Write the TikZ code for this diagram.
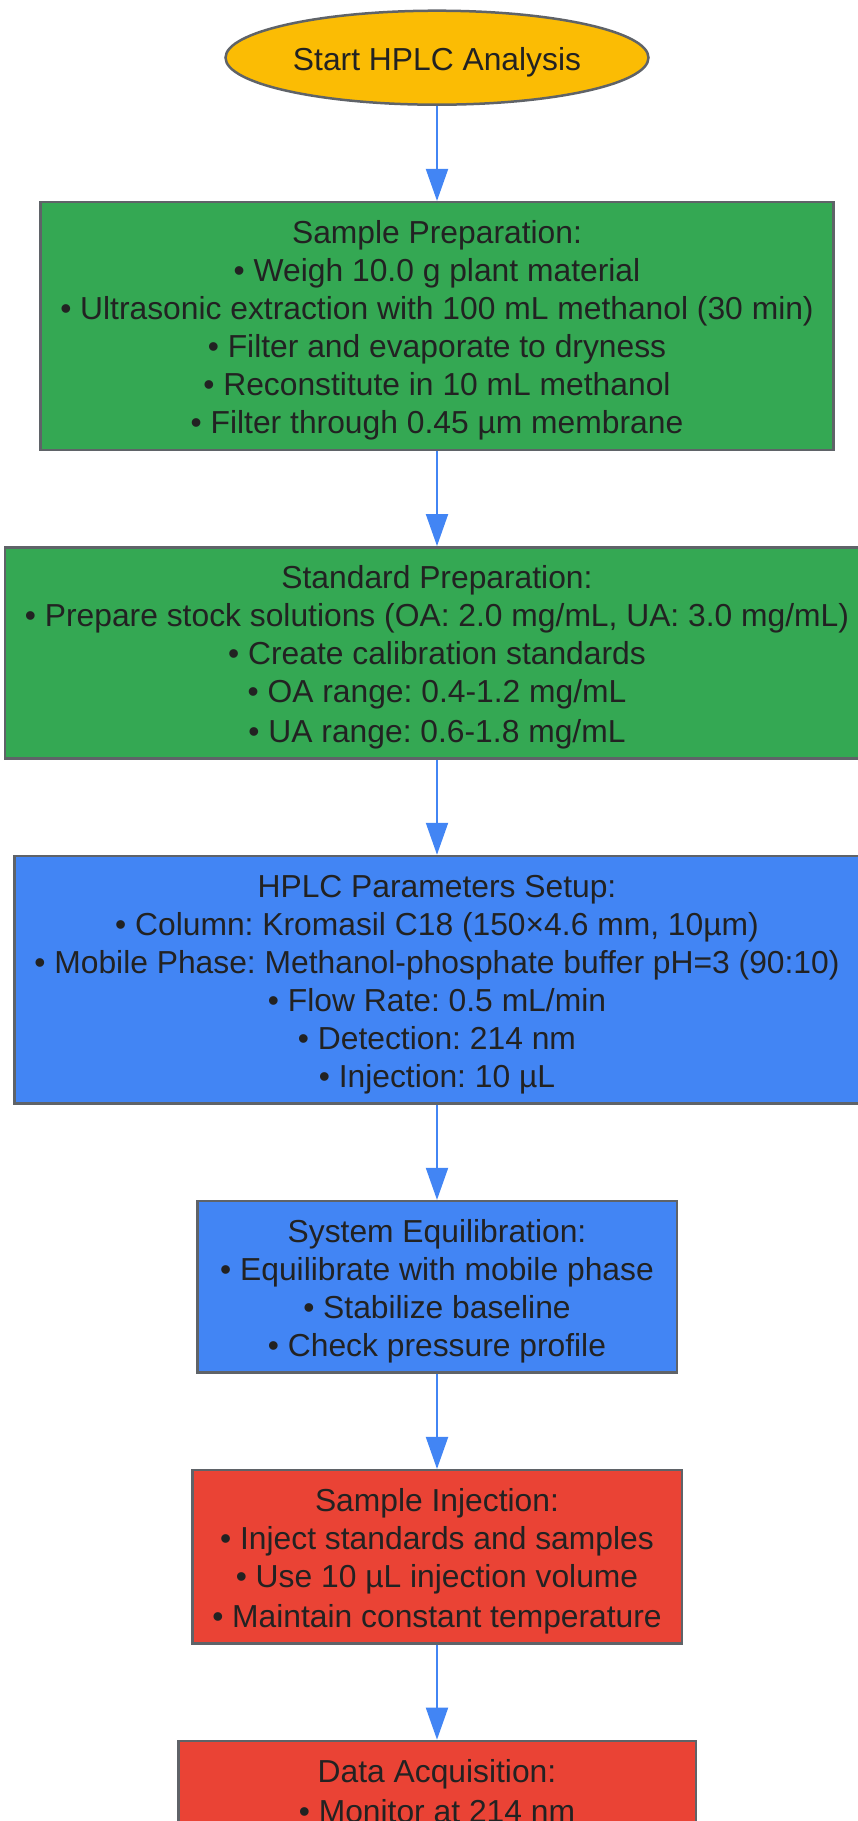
\documentclass[tikz,border=0pt]{standalone}
\usepackage{fontspec}
\setmainfont{Liberation Sans}
\usetikzlibrary{positioning,arrows.meta,shapes.geometric}

\definecolor{gyellow}{HTML}{FBBC04}
\definecolor{ggreen}{HTML}{34A853}
\definecolor{gblue}{HTML}{4285F4}
\definecolor{gred}{HTML}{EA4335}
\definecolor{edge}{HTML}{5F6368}
\definecolor{ink}{HTML}{222222}
\newcommand{\linestrut}{\rule[-6pt]{0pt}{38pt}}

\begin{document}
\frenchspacing
\begin{tikzpicture}[x=1pt,y=1pt,node distance=95pt,
	every node/.style={font=\fontsize{31.8pt}{38pt}\selectfont,text=ink,draw=edge,line width=2.5pt},
	stepbox/.style={rectangle,align=center,inner xsep=20pt,inner ysep=9.5pt},
	flow/.style={draw=gblue,line width=2pt,-{Triangle[length=32pt,width=22pt]}}]
	\useasboundingbox (0,0) rectangle (858,-1821);
	% Start
	\node[ellipse,fill=gyellow,minimum width=423pt,minimum height=94pt,inner sep=0pt] (start) at (437,-57.7) {\linestrut Start HPLC Analysis};
	% Steps
	\node[stepbox,fill=ggreen,below=of start] (sample) {\linestrut Sample Preparation:\\
		• Weigh 10.0 g plant material\\
		• Ultrasonic extraction with 100 mL methanol (30 min)\\
		• Filter and evaporate to dryness\\
		• Reconstitute in 10 mL methanol\\
		• Filter through 0.45 µm membrane\linestrut};
	\node[stepbox,fill=ggreen,below=of sample] (standard) {\linestrut Standard Preparation:\\
		• Prepare stock solutions (OA: 2.0 mg/mL, UA: 3.0 mg/mL)\\
		• Create calibration standards\\
		• OA range: 0.4-1.2 mg/mL\\
		• UA range: 0.6-1.8 mg/mL\linestrut};
	\node[stepbox,fill=gblue,below=of standard] (params) {\linestrut HPLC Parameters Setup:\\
		• Column: Kromasil C18 (150×4.6 mm, 10µm)\\
		• Mobile Phase: Methanol-phosphate buffer pH=3 (90:10)\\
		• Flow Rate: 0.5 mL/min\\
		• Detection: 214 nm\\
		• Injection: 10 µL\linestrut};
	\node[stepbox,fill=gblue,minimum width=479.5pt,below=of params] (equil) {\linestrut System Equilibration:\\
		• Equilibrate with mobile phase\\
		• Stabilize baseline\\
		• Check pressure profile\linestrut};
	\node[stepbox,fill=gred,below=of equil] (inject) {\linestrut Sample Injection:\\
		• Inject standards and samples\\
		• Use 10 µL injection volume\\
		• Maintain constant temperature\linestrut};
	\node[stepbox,fill=gred,minimum width=517.5pt,below=of inject] (acq) {\linestrut Data Acquisition:\\
		• Monitor at 214 nm\linestrut};
	% Arrows
	\draw[flow] (start) -- (sample);
	\draw[flow] (sample) -- (standard);
	\draw[flow] (standard) -- (params);
	\draw[flow] (params) -- (equil);
	\draw[flow] (equil) -- (inject);
	\draw[flow] (inject) -- (acq);
\end{tikzpicture}
\end{document}
